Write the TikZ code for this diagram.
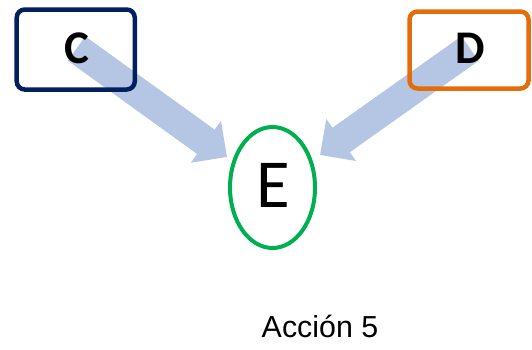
\documentclass[tikz,border=0pt]{standalone}
\usepackage{fontspec}
\setmainfont{Carlito}
\newfontfamily\arialf{Liberation Sans}
\usetikzlibrary{arrows.meta,shapes.geometric}
\definecolor{navyc}{HTML}{002060}
\definecolor{orangec}{HTML}{E46C0A}
\definecolor{greenc}{HTML}{00B050}
\definecolor{arrowc}{HTML}{B4C6E3}
\tikzset{
  boxstyle/.style={draw, line width=4.5bp, rounded corners=8bp, minimum width=118bp, minimum height=80bp, inner sep=0pt},
  letterstyle/.style={font=\bfseries\fontsize{47}{47}\selectfont, inner sep=0pt},
  bigarrow/.style={arrowc, line width=30bp, -{Triangle[width=50bp,length=26bp]}},
}
\begin{document}
\begin{tikzpicture}[x=1bp,y=-1bp]
\useasboundingbox (0,0) rectangle (532,349);
\node[letterstyle, text opacity=0] (Cpos) at (76.5,48.5) {C};
\node[letterstyle, text opacity=0] (Dpos) at (470,48.5) {D};
\coordinate (tipC) at (227,157);
\coordinate (tipD) at (320,155);
\draw[bigarrow] (Cpos.center) -- (tipC);
\draw[bigarrow] (Dpos.center) -- (tipD);
\node[boxstyle, draw=navyc] (boxC) at (75.75,49.5) {};
\node[boxstyle, draw=orangec, minimum width=119bp, minimum height=77bp] (boxD) at (469,50) {};
\node[letterstyle] (C) at (Cpos) {C};
\node[letterstyle] (D) at (Dpos) {D};
\node[draw=greenc, line width=4bp, ellipse, minimum width=85bp, minimum height=121bp, inner sep=0pt] (Ering) at (272.5,187.5) {};
\node[font=\fontsize{69}{69}\selectfont, inner sep=0pt] (E) at (273.5,185.5) {E};
\node[font=\arialf\fontsize{30.5}{30.5}\selectfont, inner sep=0pt, anchor=base] (lbl) at (320,337) {Acción 5};
\end{tikzpicture}
\end{document}
